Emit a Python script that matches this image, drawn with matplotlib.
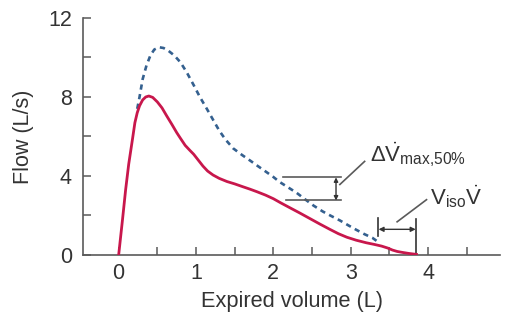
import matplotlib
matplotlib.use('Agg')
import matplotlib.pyplot as plt
import numpy as np

plt.rcParams['font.family'] = ['Liberation Sans', 'DejaVu Sans']
plt.rcParams['mathtext.fontset'] = 'custom'
plt.rcParams['mathtext.rm'] = 'Liberation Sans'
plt.rcParams['mathtext.it'] = 'Liberation Sans:italic'
plt.rcParams['mathtext.bf'] = 'Liberation Sans:bold'

# curva con obstruccion (roja)
vol_rojo = [0, 0.05, 0.09, 0.13, 0.18, 0.21, 0.24, 0.27, 0.31, 0.35, 0.39, 0.44,
            0.5, 0.56, 0.62, 0.69, 0.75, 0.8, 0.86, 0.92, 0.97, 1.02, 1.09, 1.15,
            1.22, 1.3, 1.4, 1.5, 1.61, 1.7, 1.79, 1.9, 2.0, 2.1, 2.21, 2.34,
            2.47, 2.6, 2.73, 2.84, 2.95, 3.07, 3.2, 3.3, 3.4, 3.48, 3.54, 3.6,
            3.67, 3.75, 3.85]
flujo_rojo = [0, 1.8, 3.3, 4.6, 5.9, 6.7, 7.2, 7.55, 7.85, 8.0, 8.05, 7.98,
              7.75, 7.45, 7.05, 6.6, 6.2, 5.9, 5.55, 5.3, 5.1, 4.85, 4.5, 4.25,
              4.05, 3.88, 3.72, 3.6, 3.45, 3.33, 3.2, 3.03, 2.85, 2.63, 2.4, 2.13,
              1.85, 1.57, 1.3, 1.08, 0.9, 0.75, 0.62, 0.54, 0.45, 0.35, 0.25, 0.18,
              0.13, 0.08, 0.03]

# curva normal (azul, discontinua)
vol_azul = [0.24, 0.27, 0.31, 0.36, 0.41, 0.46, 0.52, 0.58, 0.64, 0.72, 0.8, 0.88,
            0.97, 1.05, 1.14, 1.22, 1.3, 1.38, 1.48, 1.6, 1.7, 1.8, 1.91, 2.0,
            2.08, 2.2, 2.3, 2.41, 2.52, 2.64, 2.75, 2.86, 2.97, 3.07, 3.18, 3.28,
            3.34]
flujo_azul = [7.4, 8.0, 8.9, 9.6, 10.1, 10.4, 10.52, 10.48, 10.35, 10.1, 9.75, 9.25,
              8.6, 8.0, 7.4, 6.85, 6.3, 5.85, 5.4, 5.05, 4.78, 4.5, 4.2, 3.95,
              3.7, 3.4, 3.15, 2.82, 2.5, 2.2, 1.97, 1.75, 1.5, 1.28, 1.05, 0.87,
              0.7]

xticks = [0, 1, 2, 3, 4]
yticks = [0, 4, 8, 12]

gris = '#5a5a5a'

fig = plt.figure(figsize=(5.16, 3.21), dpi=100)
ax = fig.add_axes([0.161, 0.2056, 0.808, 0.7384])

ax.plot(vol_azul, flujo_azul, color='#34608f', lw=1.9, linestyle=(0, (2.0, 1.7)),
        zorder=2, solid_joinstyle='round')
ax.plot(vol_rojo, flujo_rojo, color='#c8174c', lw=2.0, zorder=3,
        solid_joinstyle='round')

ax.set_xlim(-0.46, 4.93)
ax.set_ylim(0, 12)
ax.spines['top'].set_visible(False)
ax.spines['right'].set_visible(False)
for s in ['left', 'bottom']:
    ax.spines[s].set_color(gris)
    ax.spines[s].set_linewidth(1.2)

ax.set_xticks(xticks)
ax.set_xticks(np.arange(0.5, 4.6, 1.0), minor=True)
ax.set_yticks(yticks)
ax.set_yticks([2, 6, 10], minor=True)
ax.tick_params(which='both', direction='in', length=6, width=1.1, color=gris,
               labelsize=15.5, labelcolor='#333333')
ax.tick_params(axis='x', pad=6)
ax.tick_params(axis='y', pad=8)

ax.set_xlabel('Expired volume (L)', fontsize=15.7, color='#333333', labelpad=5)
ax.set_ylabel('Flow (L/s)', fontsize=15.5, color='#333333', labelpad=10)

# anotacion delta V max 50%
lw_a = 1.2
ax.plot([2.12, 2.88], [3.93, 3.93], color=gris, lw=lw_a)
ax.plot([2.16, 2.88], [2.76, 2.76], color=gris, lw=lw_a)
ax.annotate('', xy=(2.81, 3.93), xytext=(2.81, 2.76),
            arrowprops=dict(arrowstyle='<|-|>', color='#333333', lw=1.0,
                            mutation_scale=6, shrinkA=0, shrinkB=0))
ax.plot([2.86, 3.18], [3.57, 4.74], color=gris, lw=lw_a)
ax.text(3.25, 5.1, r'$\Delta\dot{\mathrm{V}}_{\mathrm{max{,}50\%}}$', fontsize=16,
        color='#333333', va='center', ha='left')

# anotacion V iso V
ax.plot([3.35, 3.35], [0.97, 1.85], color='#333333', lw=lw_a)
ax.plot([3.85, 3.85], [0.05, 1.8], color='#333333', lw=lw_a)
ax.annotate('', xy=(3.36, 1.3), xytext=(3.84, 1.3),
            arrowprops=dict(arrowstyle='<|-|>', color='#333333', lw=1.0,
                            mutation_scale=7, shrinkA=0, shrinkB=0))
ax.plot([3.6, 3.98], [1.68, 2.8], color=gris, lw=lw_a)
ax.text(4.03, 2.95, r'$\mathrm{V}_{\mathrm{iso}}\dot{\mathrm{V}}$', fontsize=16,
        color='#333333', va='center', ha='left')

fig.savefig('out.png', dpi=100)
